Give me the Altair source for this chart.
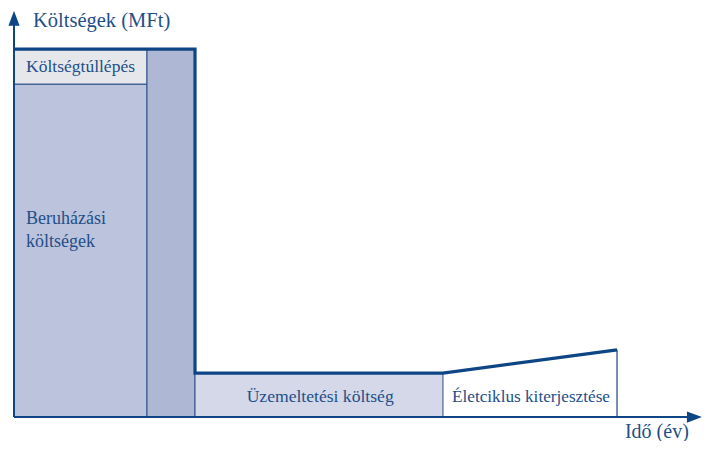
import altair as alt
import pandas as pd

# ---- data (conceptual units: x = time 0..100, y = cost 0..100) ----
rect_names = ["Beruházási", "Költségtúllépés", "Tartalék", "Üzemeltetési"]
rect_x = [0, 0, 19.33, 26.31]
rect_x2 = [19.33, 19.33, 26.31, 62.35]
rect_y = [0, 81.8, 0, 0]
rect_y2 = [81.8, 90.4, 90.4, 10.8]
rect_fill = ["#bcc3dc", "#e6e7ea", "#aeb7d4", "#d4d8e8"]

outline_x = [0, 26.31, 26.31, 62.35, 87.65]
outline_y = [90.4, 90.4, 10.8, 10.8, 16.5]

ext_x = [87.65, 87.65]
ext_y = [0, 16.5]

axis_x_end = 98.5
axis_y_end = 97.5

left_texts = ["Költségek (MFt)", "Beruházási", "költségek", "Életciklus kiterjesztése", "Idő (év)"]
left_tx = [2.76, 1.74, 1.74, 63.66, 88.8]
left_ty = [97.2, 48.6, 43.0, 4.9, -3.6]
left_fs = [20.5, 18, 18, 17.2, 20]

center_texts = ["Költségtúllépés", "Üzemeltetési költség"]
center_tx = [9.67, 44.5]
center_ty = [86.0, 4.9]
center_fs = [17.5, 17.6]

arrow_x = [0, 98.9]
arrow_y = [98.0, 0]
arrow_shape = ["M0,-1L0.75,1L-0.75,1Z", "M1,0L-1,0.75L-1,-0.75Z"]

LINE = "#0e4585"
TEXT = "#234f88"
FONT = "Liberation Serif"

xs = alt.Scale(domain=[0, 100], nice=False, zero=False)
ys = alt.Scale(domain=[0, 100], nice=False, zero=False)

rects = pd.DataFrame({"name": rect_names, "x": rect_x, "x2": rect_x2,
                      "y": rect_y, "y2": rect_y2, "fill": rect_fill})
outline = pd.DataFrame({"x": outline_x, "y": outline_y, "o": list(range(len(outline_x)))})
ext = pd.DataFrame({"x": ext_x, "y": ext_y, "o": [0, 1]})
axes = pd.DataFrame({"x": [0, 0], "y": [0, 0], "x2": [axis_x_end, 0], "y2": [0, axis_y_end]})
lt = pd.DataFrame({"t": left_texts, "x": left_tx, "y": left_ty, "fs": left_fs})
ct = pd.DataFrame({"t": center_texts, "x": center_tx, "y": center_ty, "fs": center_fs})
arrows = pd.DataFrame({"x": arrow_x, "y": arrow_y, "shape": arrow_shape})

rect_layer = alt.Chart(rects).mark_rect(stroke="#2c5089", strokeWidth=1).encode(
    x=alt.X("x:Q", scale=xs, axis=None), x2="x2:Q",
    y=alt.Y("y:Q", scale=ys, axis=None), y2="y2:Q",
    fill=alt.Fill("fill:N", scale=None),
)

ext_layer = alt.Chart(ext).mark_line(color="#2c5089", strokeWidth=1.3).encode(
    x=alt.X("x:Q", scale=xs, axis=None), y=alt.Y("y:Q", scale=ys, axis=None), order="o:Q"
)

outline_layer = alt.Chart(outline).mark_line(color=LINE, strokeWidth=3.2, strokeJoin="miter").encode(
    x=alt.X("x:Q", scale=xs, axis=None), y=alt.Y("y:Q", scale=ys, axis=None), order="o:Q"
)

axis_layer = alt.Chart(axes).mark_rule(color=LINE, strokeWidth=2).encode(
    x=alt.X("x:Q", scale=xs, axis=None), x2="x2:Q",
    y=alt.Y("y:Q", scale=ys, axis=None), y2="y2:Q",
)

arrow_layer = alt.Chart(arrows).mark_point(filled=True, color=LINE, opacity=1, size=225).encode(
    x=alt.X("x:Q", scale=xs, axis=None), y=alt.Y("y:Q", scale=ys, axis=None),
    shape=alt.Shape("shape:N", scale=None),
)

left_layer = alt.Chart(lt).mark_text(align="left", baseline="middle", font=FONT, color=TEXT).encode(
    x=alt.X("x:Q", scale=xs, axis=None), y=alt.Y("y:Q", scale=ys, axis=None),
    text="t:N", size=alt.Size("fs:Q", scale=None),
)

center_layer = alt.Chart(ct).mark_text(align="center", baseline="middle", font=FONT, color=TEXT).encode(
    x=alt.X("x:Q", scale=xs, axis=None), y=alt.Y("y:Q", scale=ys, axis=None),
    text="t:N", size=alt.Size("fs:Q", scale=None),
)

chart = alt.layer(
    rect_layer, ext_layer, outline_layer, axis_layer, arrow_layer, left_layer, center_layer
).properties(
    width=688, height=407,
    autosize=alt.AutoSizeParams(type="none"),
    padding={"left": 6, "top": 2, "right": 1, "bottom": 24},
).configure_view(stroke=None)

chart.save("out.html", embed_options={"renderer": "svg", "actions": False})
